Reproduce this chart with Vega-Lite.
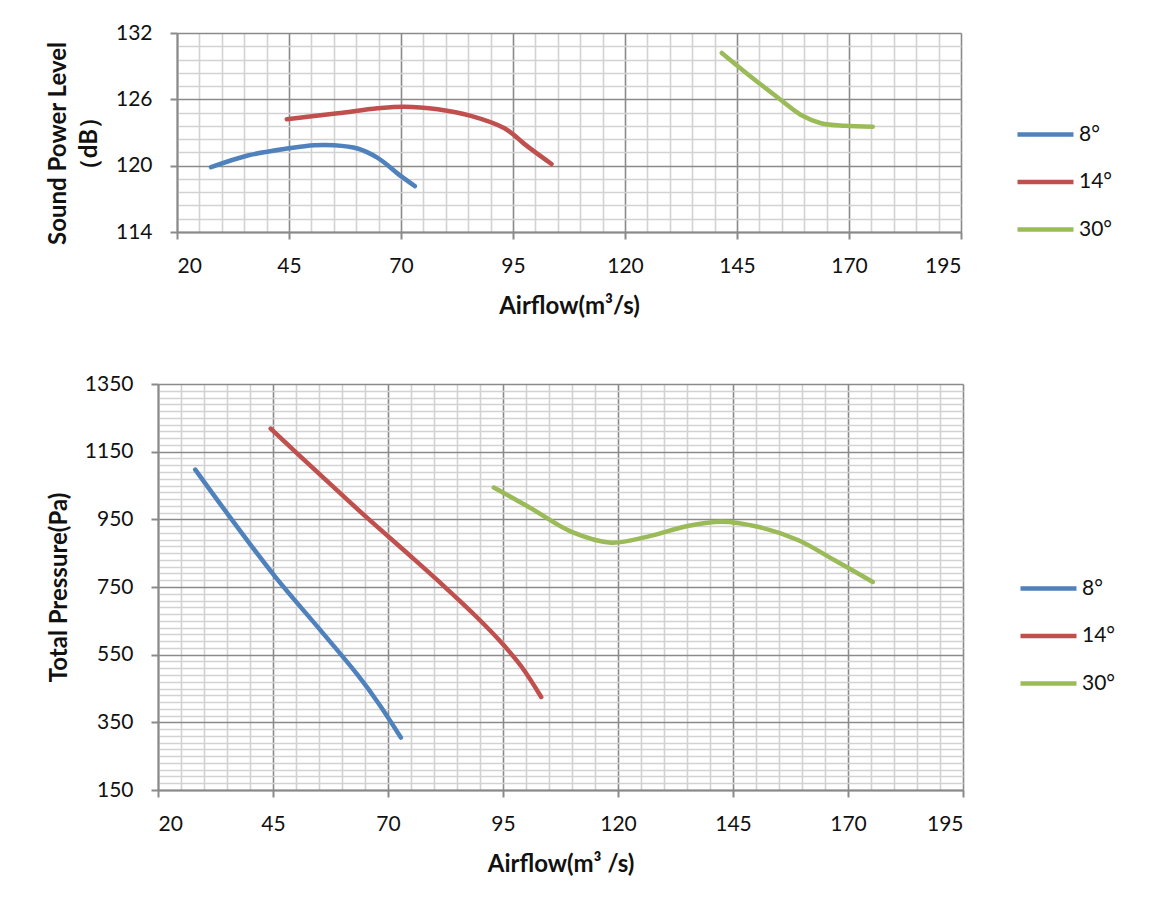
{
  "$schema": "https://vega.github.io/schema/vega-lite/v6.json",
  "padding": {"left": 46, "top": 22, "right": 5, "bottom": 5},
  "spacing": 55,
  "center": true,
  "background": "white",
  "config": {
    "view": {"stroke": null},
    "font": "Lato",
    "axis": {
      "labelFont": "Lato", "labelFontSize": 21, "labelColor": "#111",
      "titleFont": "Lato", "titleFontSize": 24, "titleFontWeight": "bold", "titleColor": "#111",
      "domainColor": "#8a8a8a", "domainWidth": 2, "tickColor": "#8a8a8a", "tickWidth": 2, "tickSize": 7,
      "gridColor": "#8a8a8a", "gridWidth": 1.6, "gridOpacity": 1, "labelPadding": 16
    },
    "legend": {"labelFont": "Lato", "labelFontSize": 21, "labelColor": "#111"}
  },
  "datasets": {
    "spl": [
      {"airflow": 27.6, "value": 119.86, "angle": "8°"},
      {"airflow": 35.8, "value": 120.92, "angle": "8°"},
      {"airflow": 45.0, "value": 121.57, "angle": "8°"},
      {"airflow": 50.6, "value": 121.85, "angle": "8°"},
      {"airflow": 55.1, "value": 121.85, "angle": "8°"},
      {"airflow": 60.3, "value": 121.55, "angle": "8°"},
      {"airflow": 64.8, "value": 120.7, "angle": "8°"},
      {"airflow": 70.0, "value": 119.05, "angle": "8°"},
      {"airflow": 73.1, "value": 118.15, "angle": "8°"},
      {"airflow": 44.5, "value": 124.2, "angle": "14°"},
      {"airflow": 55.9, "value": 124.74, "angle": "14°"},
      {"airflow": 64.8, "value": 125.19, "angle": "14°"},
      {"airflow": 70.7, "value": 125.34, "angle": "14°"},
      {"airflow": 78.2, "value": 125.1, "angle": "14°"},
      {"airflow": 85.6, "value": 124.5, "angle": "14°"},
      {"airflow": 93.1, "value": 123.38, "angle": "14°"},
      {"airflow": 98.3, "value": 121.72, "angle": "14°"},
      {"airflow": 103.6, "value": 120.15, "angle": "14°"},
      {"airflow": 141.6, "value": 130.2, "angle": "30°"},
      {"airflow": 148.1, "value": 128.05, "angle": "30°"},
      {"airflow": 154.8, "value": 125.94, "angle": "30°"},
      {"airflow": 159.3, "value": 124.59, "angle": "30°"},
      {"airflow": 163.75, "value": 123.84, "angle": "30°"},
      {"airflow": 169.0, "value": 123.6, "angle": "30°"},
      {"airflow": 175.3, "value": 123.53, "angle": "30°"}
    ],
    "tp": [
      {"airflow": 28.1, "value": 1097, "angle": "8°"},
      {"airflow": 36.0, "value": 950, "angle": "8°"},
      {"airflow": 45.5, "value": 780, "angle": "8°"},
      {"airflow": 54.7, "value": 632, "angle": "8°"},
      {"airflow": 63.4, "value": 490, "angle": "8°"},
      {"airflow": 68.0, "value": 405, "angle": "8°"},
      {"airflow": 72.8, "value": 305, "angle": "8°"},
      {"airflow": 44.5, "value": 1218, "angle": "14°"},
      {"airflow": 50.0, "value": 1148, "angle": "14°"},
      {"airflow": 57.0, "value": 1060, "angle": "14°"},
      {"airflow": 65.0, "value": 960, "angle": "14°"},
      {"airflow": 75.0, "value": 840, "angle": "14°"},
      {"airflow": 82.2, "value": 752, "angle": "14°"},
      {"airflow": 89.0, "value": 665, "angle": "14°"},
      {"airflow": 94.5, "value": 588, "angle": "14°"},
      {"airflow": 99.0, "value": 515, "angle": "14°"},
      {"airflow": 103.3, "value": 425, "angle": "14°"},
      {"airflow": 93.0, "value": 1044, "angle": "30°"},
      {"airflow": 101.1, "value": 982.5, "angle": "30°"},
      {"airflow": 109.8, "value": 913.5, "angle": "30°"},
      {"airflow": 118.5, "value": 881, "angle": "30°"},
      {"airflow": 126.5, "value": 899, "angle": "30°"},
      {"airflow": 135.2, "value": 930.3, "angle": "30°"},
      {"airflow": 142.4, "value": 943, "angle": "30°"},
      {"airflow": 150.4, "value": 928, "angle": "30°"},
      {"airflow": 159.1, "value": 888.9, "angle": "30°"},
      {"airflow": 167.0, "value": 830, "angle": "30°"},
      {"airflow": 175.4, "value": 765, "angle": "30°"}
    ]
  },
  "resolve": {"scale": {"color": "independent"}, "legend": {"color": "independent"}},
  "vconcat": [
    {
      "width": 784, "height": 199,
      "data": {"name": "spl"},
      "resolve": {"axis": {"x": "independent", "y": "independent"}},
      "layer": [
        {
          "mark": {"type": "line", "opacity": 0},
          "encoding": {
            "x": {"field": "airflow", "type": "quantitative",
              "scale": {"domain": [20, 195], "nice": false, "zero": false},
              "axis": {"orient": "top", "values": [25,30,35,40,50,55,60,65,75,80,85,90,100,105,110,115,125,130,135,140,150,155,160,165,175,180,185,190], "labels": false, "ticks": false, "domain": false, "grid": true, "gridColor": "#d2d2d2", "gridWidth": 1.6, "title": null}},
            "y": {"field": "value", "type": "quantitative",
              "scale": {"domain": [114, 132], "nice": false, "zero": false},
              "axis": {"orient": "right", "values": [115.2,116.4,117.6,118.8,121.2,122.4,123.6,124.8,127.2,128.4,129.6,130.8], "labels": false, "ticks": false, "domain": false, "grid": true, "gridColor": "#d2d2d2", "gridWidth": 1.6, "title": null}},
            "detail": {"field": "angle"}
          }
        },
        {
          "mark": {"type": "line", "strokeWidth": 4.5, "interpolate": "catmull-rom", "strokeCap": "round"},
          "encoding": {
            "x": {"field": "airflow", "type": "quantitative",
              "axis": {"values": [20,45,70,95,120,145,170,195], "grid": true, "title": "Airflow(m³/s)", "titlePadding": 18}},
            "y": {"field": "value", "type": "quantitative",
              "axis": {"values": [114,120,126,132], "grid": true, "format": "d", "title": ["Sound Power Level", "（dB）"], "titleLineHeight": 31, "titleY": 110, "labelPadding": 18, "titlePadding": 14}},
            "color": {"field": "angle", "type": "nominal",
              "scale": {"domain": ["8°", "14°", "30°"], "range": ["#4F81BD", "#C0504D", "#9BBB59"]},
              "legend": {"title": null, "orient": "none", "legendX": 838, "legendY": 71, "symbolType": "stroke", "symbolSize": 3136, "symbolStrokeWidth": 4.5, "rowPadding": 6.5, "labelOffset": 3}}
          }
        }
      ]
    },
    {
      "width": 805, "height": 406,
      "data": {"name": "tp"},
      "resolve": {"axis": {"x": "independent", "y": "independent"}},
      "layer": [
        {
          "mark": {"type": "line", "opacity": 0},
          "encoding": {
            "x": {"field": "airflow", "type": "quantitative",
              "scale": {"domain": [20, 195], "nice": false, "zero": false},
              "axis": {"orient": "top", "values": [25,30,35,40,50,55,60,65,75,80,85,90,100,105,110,115,125,130,135,140,150,155,160,165,175,180,185,190], "labels": false, "ticks": false, "domain": false, "grid": true, "gridColor": "#d2d2d2", "gridWidth": 1.6, "title": null}},
            "y": {"field": "value", "type": "quantitative",
              "scale": {"domain": [150, 1350], "nice": false, "zero": false},
              "axis": {"orient": "right", "values": [170,190,210,230,250,270,290,310,330,370,390,410,430,450,470,490,510,530,570,590,610,630,650,670,690,710,730,770,790,810,830,850,870,890,910,930,970,990,1010,1030,1050,1070,1090,1110,1130,1170,1190,1210,1230,1250,1270,1290,1310,1330], "labels": false, "ticks": false, "domain": false, "grid": true, "gridColor": "#d2d2d2", "gridWidth": 1.6, "title": null}},
            "detail": {"field": "angle"}
          }
        },
        {
          "mark": {"type": "line", "strokeWidth": 4.5, "interpolate": "catmull-rom", "strokeCap": "round"},
          "encoding": {
            "x": {"field": "airflow", "type": "quantitative",
              "axis": {"values": [20,45,70,95,120,145,170,195], "grid": true, "title": "Airflow(m³ /s)", "titlePadding": 18}},
            "y": {"field": "value", "type": "quantitative",
              "axis": {"values": [150,350,550,750,950,1150,1350], "grid": true, "format": "d", "title": "Total Pressure(Pa)", "labelPadding": 18, "titlePadding": 13}},
            "color": {"field": "angle", "type": "nominal",
              "scale": {"domain": ["8°", "14°", "30°"], "range": ["#4F81BD", "#C0504D", "#9BBB59"]},
              "legend": {"title": null, "orient": "none", "legendX": 844, "legendY": 158, "padding": 16, "symbolType": "stroke", "symbolSize": 3136, "symbolStrokeWidth": 4.5, "rowPadding": 6.5, "labelOffset": 3}}
          }
        }
      ]
    }
  ]
}
